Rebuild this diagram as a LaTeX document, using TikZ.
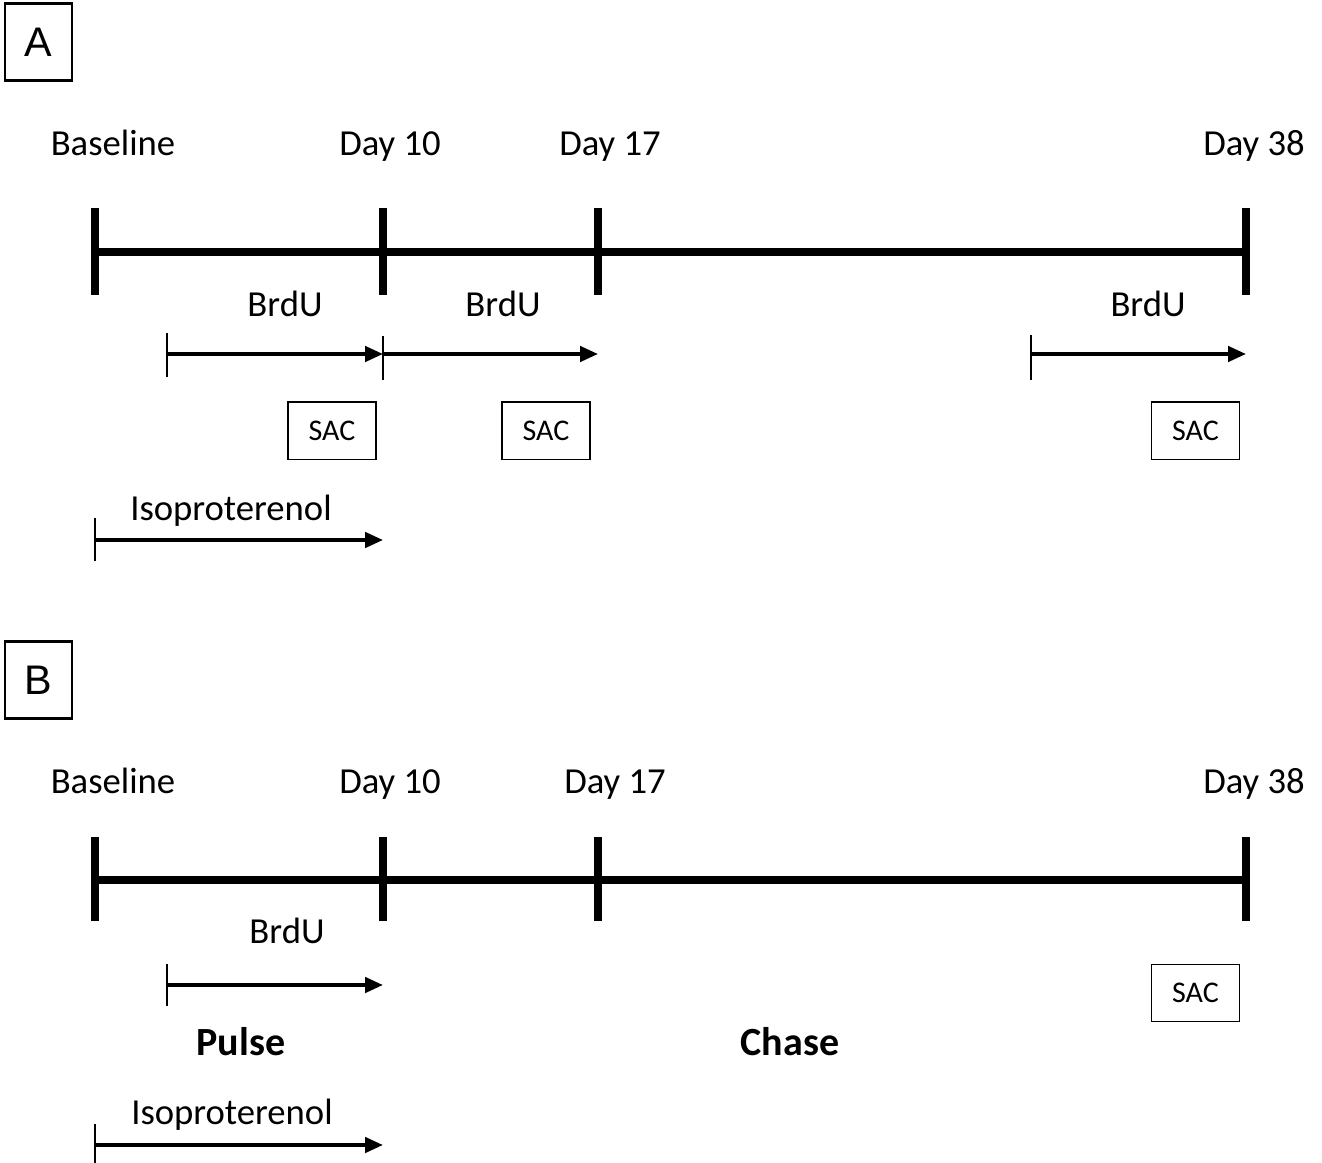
\documentclass[tikz,border=0pt]{standalone}
\usepackage{fontspec}
\setmainfont{Carlito}
\newfontfamily\panelfont{Liberation Sans}
\usetikzlibrary{arrows.meta}
\begin{document}
\begin{tikzpicture}[x=0.75pt,y=-0.75pt,
  lbl/.style={inner sep=0pt,anchor=base,font=\fontsize{27.5}{30}\selectfont},
  bold/.style={inner sep=0pt,anchor=base,font=\fontsize{30}{33}\selectfont\bfseries},
  panel/.style={draw,line width=1.8pt,minimum width=50pt,minimum height=58pt,inner sep=0pt,font=\panelfont\fontsize{31}{34}\selectfont},
  sac/.style={draw,line width=1pt,minimum width=66pt,minimum height=43pt,inner sep=0pt,font=\fontsize{22.5}{25}\selectfont},
  axis/.style={line width=5.3pt},
  tick/.style={line width=5.3pt},
  arr/.style={line width=2.8pt,-{Triangle[length=13.5pt,width=11.5pt]}},
  stub/.style={line width=1.9pt}]
\useasboundingbox (0,0) rectangle (1322,1163);

% ---------------- Panel A ----------------
\node[panel] (pA) at (38.5,42) {A};
\node[lbl] (a0) at (113,156) {Baseline};
\node[lbl] (a10) at (390,156) {Day 10};
\node[lbl] (a17) at (610,156) {Day 17};
\node[lbl] (a38) at (1254,156) {Day 38};

\coordinate (t0) at (95,252);
\coordinate (t10) at (383,252);
\coordinate (t17) at (598,252);
\coordinate (t38) at (1246,252);
\draw[axis] (t0) -- (t38);
\foreach \x in {95,383,598,1246}
  \draw[tick] (\x,208) -- (\x,295);

\node[lbl] (b1) at (285,316) {BrdU};
\node[lbl] (b2) at (503,316) {BrdU};
\node[lbl] (b3) at (1148,316) {BrdU};

\coordinate (s1) at (167,354);
\coordinate (e1) at (383,354);
\coordinate (e2) at (598,354);
\coordinate (s3) at (1031,354);
\coordinate (e3) at (1246,354);
\draw[stub] (167,333) -- (167,377);
\draw[stub] (383,336) -- (383,380);
\draw[stub] (1031,335) -- (1031,380);
\draw[arr] (s1) -- (e1);
\draw[arr] (e1) -- (e2);
\draw[arr] (s3) -- (e3);

\node[sac] (sac1) at (332,430.5) {SAC};
\node[sac] (sac2) at (546,430.5) {SAC};
\node[sac] (sac3) at (1195.5,430.5) {SAC};

\node[lbl] (isoA) at (231,520) {Isoproterenol};
\coordinate (iA0) at (95,540);
\coordinate (iA1) at (383,540);
\draw[stub] (95,518) -- (95,561);
\draw[arr] (iA0) -- (iA1);

% ---------------- Panel B ----------------
\node[panel] (pB) at (38.5,680) {B};
\node[lbl] (c0) at (113,793) {Baseline};
\node[lbl] (c10) at (390,793) {Day 10};
\node[lbl] (c17) at (615,793) {Day 17};
\node[lbl] (c38) at (1254,793) {Day 38};

\coordinate (u0) at (95,880);
\coordinate (u10) at (383,880);
\coordinate (u17) at (598,880);
\coordinate (u38) at (1246,880);
\draw[axis] (u0) -- (u38);
\foreach \x in {95,383,598,1246}
  \draw[tick] (\x,837) -- (\x,921);

\node[lbl] (bb) at (287,943) {BrdU};
\coordinate (bs) at (167,985);
\coordinate (be) at (383,985);
\draw[stub] (167,964) -- (167,1006);
\draw[arr] (bs) -- (be);

\node[sac] (sacB) at (1195.5,993) {SAC};

\node[bold] (pulse) at (241,1055) {Pulse};
\node[bold] (chase) at (790,1055) {Chase};

\node[lbl] (isoB) at (232,1124) {Isoproterenol};
\coordinate (iB0) at (95,1145);
\coordinate (iB1) at (383,1145);
\draw[stub] (95,1124) -- (95,1164);
\draw[arr] (iB0) -- (iB1);
\end{tikzpicture}
\end{document}
